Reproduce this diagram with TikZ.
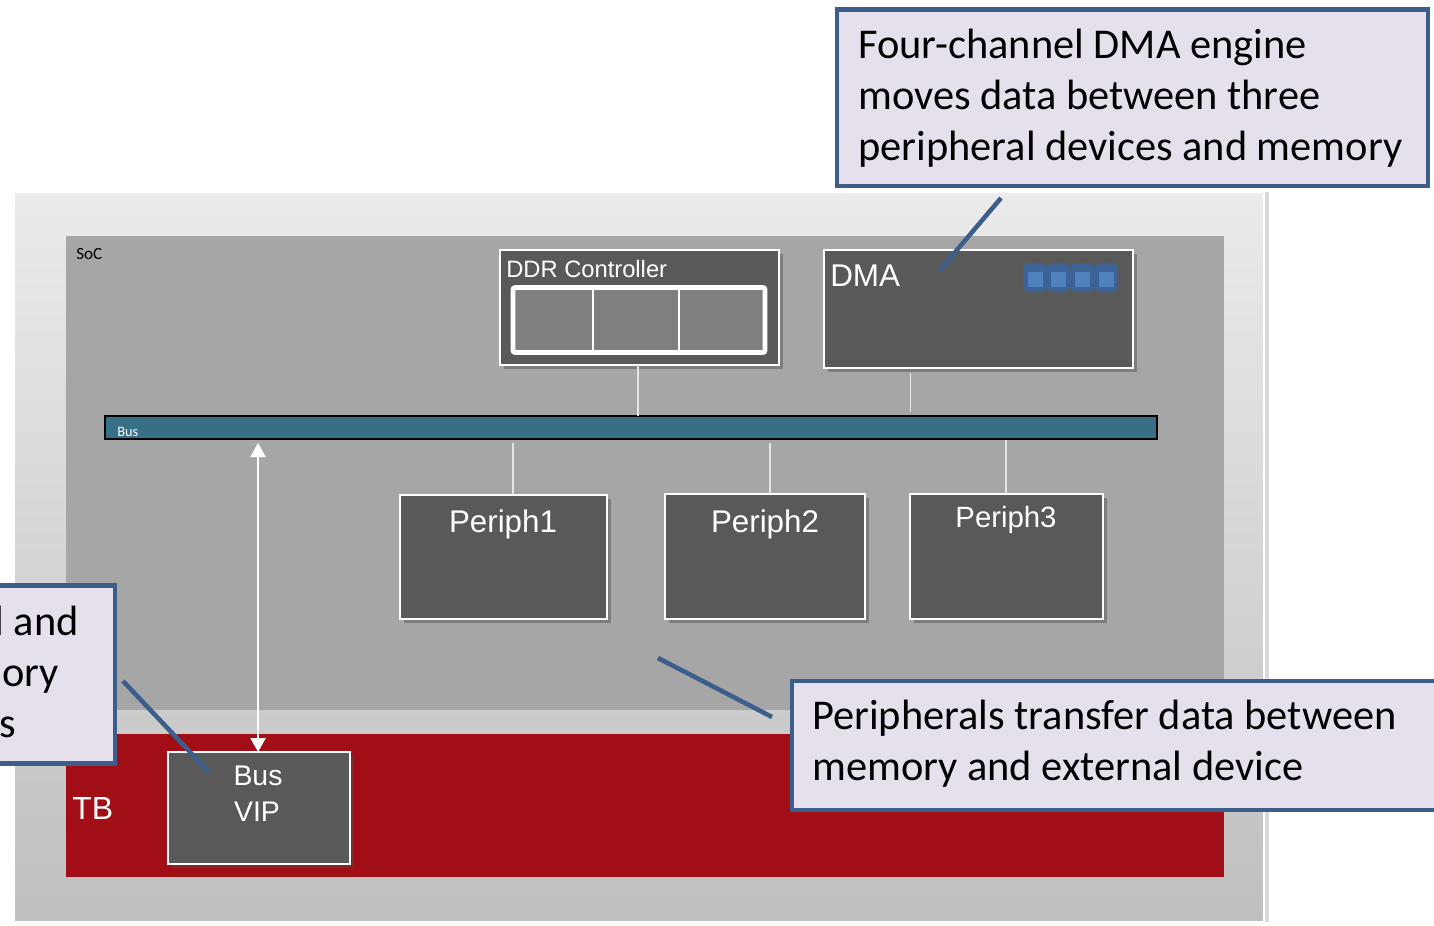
\documentclass[tikz,border=0pt]{standalone}
\usepackage{fontspec}
\setmainfont{Liberation Sans}
\newfontfamily\calibri{Carlito}
\usetikzlibrary{arrows.meta,shadows,fit,calc}

\definecolor{frametop}{HTML}{EBEBEB}
\definecolor{framebot}{HTML}{BFBFBF}
\definecolor{socgray}{HTML}{A6A6A6}
\definecolor{tbred}{HTML}{A10E15}
\definecolor{blockgray}{HTML}{595959}
\definecolor{cellgray}{HTML}{7F7F7F}
\definecolor{busteal}{HTML}{366F86}
\definecolor{calloutfill}{HTML}{E6E0EC}
\definecolor{calloutline}{HTML}{3B5E8C}
\definecolor{chanfill}{HTML}{4F81BD}
\definecolor{chanline}{HTML}{3C6397}
\definecolor{wiregray}{HTML}{E6E6E6}

\begin{document}
\begin{tikzpicture}[x=0.75pt,y=-0.75pt,
  area/.style={inner sep=0pt, outer sep=0pt},
  block/.style={area, fill=blockgray, draw=white, line width=0.9pt,
    drop shadow={shadow xshift=3pt, shadow yshift=-3pt, opacity=0.45, fill=black!70}},
  callout/.style={area, fill=calloutfill, draw=calloutline, line width=3.4pt},
  calltext/.style={inner sep=0pt, font=\calibri\fontsize{31.8}{38.25}\selectfont, text=black},
  lbl/.style={inner sep=0pt, text=white},
  wire/.style={draw=wiregray, line width=0.9pt},
  pointer/.style={draw=calloutline, line width=3.4pt},
  biarrow/.style={draw=white, line width=0.9pt,
    {Triangle[width=11.5pt,length=10.5pt]}-{Triangle[width=11.5pt,length=10.5pt]}},
  chan/.style={fill=chanline, rounded corners=5pt},
  chancell/.style={fill=chanfill}
]
\useasboundingbox (0,0) rectangle (1434,925);
\clip (0,0) rectangle (1434,925);

% outer environment frame
\node[area, fit={(14,192) (1264,922)}, top color=frametop, bottom color=framebot,
  draw=white, line width=1.2pt,
  drop shadow={shadow xshift=4pt, shadow yshift=0pt, opacity=0.3}] (frame) {};

% SoC region and testbench band
\node[area, fit={(66,236) (1224,710)}, fill=socgray] (soc) {};
\node[inner sep=0pt, anchor=base west, font=\calibri\fontsize{12.8}{15}\selectfont] (soclbl) at (76,259) {SoC};
\node[area, fit={(66,734) (1224,877)}, fill=tbred] (tb) {};
\node[lbl, anchor=base west, font=\fontsize{24}{28}\selectfont] (tblbl) at (72,819) {TB};

% DDR controller with its three memory cells
\node[block, fit={(500,250) (779,365)}] (ddr) {};
\node[lbl, anchor=base west, font=\fontsize{17.8}{21}\selectfont] (ddrlbl) at (506,277) {DDR Controller};
\draw[fill=cellgray, draw=white, line width=3.5pt, rounded corners=1.5pt] (513,287.5) rectangle (765,352.5);
\draw[draw=white, line width=1.5pt] (593,289) -- (593,351) (679,289) -- (679,351);

% DMA engine with four channels
\node[block, fit={(824,250) (1133,368)}] (dma) {};
\node[lbl, anchor=base west, font=\fontsize{23.6}{28}\selectfont] (dmalbl) at (830,286) {DMA};
\foreach \cx in {1035,1058,1082,1106} {
  \fill[chan] (\cx-12,263) rectangle (\cx+12,292);
}
\foreach \cx in {1035,1058,1082,1106} {
  \fill[chancell] (\cx-7.5,272) rectangle (\cx+7.5,287);
}

% system bus
\node[area, fit={(105,416) (1157,439)}, fill=busteal, draw=black, line width=0.8pt] (bus) {};
\node[lbl, anchor=base west, font=\calibri\fontsize{10.8}{13}\selectfont] (buslbl) at (117,436) {Bus};

% peripherals
\node[block, fit={(400,495) (607,619)}] (p1) {};
\node[lbl, anchor=base, font=\fontsize{23.5}{28}\selectfont] (p1lbl) at (503,532) {Periph1};
\node[block, fit={(665,494) (865,619)}] (p2) {};
\node[lbl, anchor=base, font=\fontsize{23.5}{28}\selectfont] (p2lbl) at (765,532) {Periph2};
\node[block, fit={(910,494) (1103,619)}] (p3) {};
\node[lbl, anchor=base, font=\fontsize{22}{26}\selectfont] (p3lbl) at (1006,527) {Periph3};

% bus verification IP
\node[block, fit={(168,752) (350,864)}] (vip) {};
\node[lbl, anchor=base, font=\fontsize{21.3}{27}\selectfont] (viplbl1) at (258,785) {Bus};
\node[lbl, anchor=base, font=\fontsize{21.3}{27}\selectfont] (viplbl2) at (257,821) {VIP};

% bus attachments
\draw[wire] (ddr.south) ++(-1.1pt,0) coordinate (ddrtap) -- (ddrtap |- bus.north);
\draw[wire] ([xshift=-51pt,yshift=-3.5pt]dma.south) coordinate (dmatap) -- ([yshift=3pt]dmatap |- bus.north);
\draw[wire] ([xshift=7.1pt]p1.north) coordinate (p1tap) -- ([yshift=-3pt]p1tap |- bus.south);
\draw[wire] ([xshift=3.8pt]p2.north) coordinate (p2tap) -- ([yshift=-3pt]p2tap |- bus.south);
\draw[wire] ([xshift=-0.4pt]p3.north) coordinate (p3tap) -- ([yshift=-1pt]p3tap |- bus.south);
\draw[biarrow] ([xshift=-0.7pt]vip.north) coordinate (viptap) -- ([yshift=-3pt]viptap |- bus.south);

% callouts (multi-line text is placed by the baseline of its last line)
\node[callout, fit={(837,9.5) (1428,186)}] (cdma) {};
\node[calltext, anchor=base west, align=left] (cdmatxt) at (858,160)
  {Four-channel DMA engine\\moves data between three\\peripheral devices and memory};
\coordinate (cdmafrom) at (1001,198);
\coordinate (cdmato) at (940,270);
\draw[pointer] (cdmafrom) -- (cdmato);

\node[callout, fit={(792,681) (1450,810)}] (cper) {};
\node[calltext, anchor=base west, align=left] (cpertxt) at (812,780)
  {Peripherals transfer data between\\memory and external device};
\coordinate (cperfrom) at (658,658);
\coordinate (cperto) at (772,717);
\draw[pointer] (cperfrom) -- (cperto);

\node[callout, fit={(-30,585.5) (115,763.5)}] (cvip) {};
\node[calltext, anchor=base east] (cviptxt1) at (79,635) {l and};
\node[calltext, anchor=base east] (cviptxt2) at (59,686) {ory};
\node[calltext, anchor=base east] (cviptxt3) at (16,737) {s};
\coordinate (cvipfrom) at (123,681);
\coordinate (cvipto) at (208,771);
\draw[pointer] (cvipfrom) -- (cvipto);
\end{tikzpicture}
\end{document}
